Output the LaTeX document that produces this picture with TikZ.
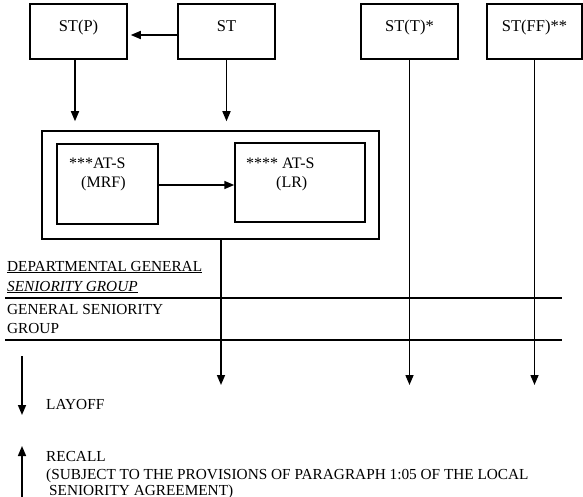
\documentclass[tikz,border=0pt]{standalone}
\usepackage{fontspec}
\setmainfont{Liberation Serif}
\usetikzlibrary{arrows.meta,positioning}
\tikzset{
  stbox/.style={draw, line width=1.5pt, minimum width=97pt, minimum height=55pt,
    inner sep=0pt, text height=11pt, text depth=11pt, font=\fontsize{16.5}{19}\selectfont},
  atbox/.style={draw, line width=1.5pt, inner sep=0pt},
  arr/.style={line width=1.5pt, -{Triangle[length=10pt,width=8pt]}},
  txt/.style={inner sep=0pt, anchor=base west, font=\fontsize{15.3}{19}\selectfont},
  attxt/.style={txt, font=\fontsize{16}{19}\selectfont},
  senline/.style={line width=1.5pt},
}
\begin{document}
\begin{tikzpicture}[x=1pt,y=-1pt]
\useasboundingbox (0,0) rectangle (583,497);
% top row
\node[stbox] (stp) at (78.5,31.5) {ST(P)};
\node[stbox] (st) at (226.5,31.5) {ST};
\node[stbox] (stt) at (409.5,31.5) {ST(T)*};
\node[stbox, minimum width=95pt] (stff) at (534.5,31.5) {ST(FF)**};
% AT-S group
\node[atbox, minimum width=337pt, minimum height=108pt] (outer) at (210.5,185) {};
\node[atbox, minimum width=101pt, minimum height=80pt] (mrf) at (107.5,184) {};
\node[atbox, minimum width=130pt, minimum height=79pt] (lr) at (300,182.5) {};
\node[attxt] (mrftxt) at (69,168) {***AT-S};
\node[attxt] (mrftxt2) at (81,187) {(MRF)};
\node[attxt] (lrtxt) at (246,168) {**** AT-S};
\node[attxt] (lrtxt2) at (276,187) {(LR)};
% end points
\coordinate (endlr) at (221,385);
\coordinate (endt) at (409.5,385);
\coordinate (endff) at (534.5,385);
\coordinate (layofftop) at (22,356);
\coordinate (layoffend) at (22,415);
\coordinate (recallbot) at (22,497);
\coordinate (recallend) at (22,446);
% arrows
\draw[arr, shorten >=3pt] ([yshift=-3.5pt]st.west) -- ([yshift=-3.5pt]stp.east);
\draw[arr, shorten >=9pt] ([xshift=-3.5pt]stp.south) -- ([xshift=-3.5pt]stp.south |- outer.north);
\draw[arr, shorten >=9pt] (st.south) -- (st.south |- outer.north);
\draw[arr] ([yshift=-1pt]mrf.east) -- ([yshift=-1pt]mrf.east -| lr.west);
\draw[arr] (outer.south -| endlr) -- (endlr);
\draw[arr] (stt.south) -- (endt);
\draw[arr] (stff.south) -- (endff);
% seniority groups
\coordinate (lineA) at (5,298);
\coordinate (lineB) at (5,340);
\draw[senline] (lineA) -- ++(557,0);
\draw[senline] (lineB) -- ++(557,0);
\node[txt] (dept1) at (7,271) {\underline{DEPARTMENTAL GENERAL}};
\node[txt] (dept2) at (7,291) {\underline{\itshape SENIORITY GROUP}};
\node[txt] (gen1) at (7,314) {GENERAL SENIORITY};
\node[txt] (gen2) at (7,333) {GROUP};
% legend
\draw[arr] (layofftop) -- (layoffend);
\node[txt] (layoff) at (46,409) {LAYOFF};
\draw[arr] (recallbot) -- (recallend);
\node[txt] (recall) at (46,461) {RECALL};
\node[txt] (subj1) at (46,479) {(SUBJECT TO THE PROVISIONS OF PARAGRAPH 1:05 OF THE LOCAL};
\node[txt] (subj2) at (49,495) {SENIORITY AGREEMENT)};
\end{tikzpicture}
\end{document}
